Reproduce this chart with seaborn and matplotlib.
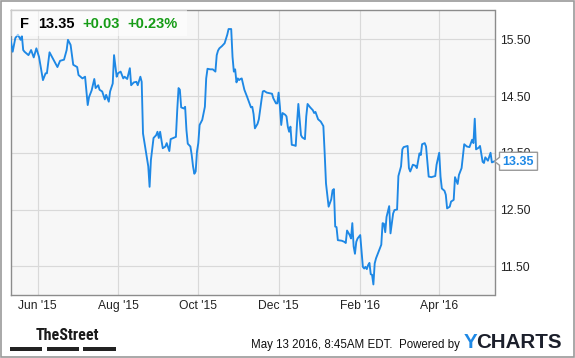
import matplotlib
matplotlib.use("Agg")
import matplotlib.pyplot as plt
import matplotlib.patches as mpatches
from matplotlib import font_manager
import seaborn as sns
import pandas as pd

# ---------------- data ----------------
dates = [
    "2015-05-11", "2015-05-13", "2015-05-15", "2015-05-17", "2015-05-19", "2015-05-20",
    "2015-05-21", "2015-05-22", "2015-05-25", "2015-05-27", "2015-05-29", "2015-05-31",
    "2015-06-02", "2015-06-05", "2015-06-07", "2015-06-08", "2015-06-10", "2015-06-13",
    "2015-06-16", "2015-06-18", "2015-06-21", "2015-06-23", "2015-06-24", "2015-06-26",
    "2015-06-28", "2015-07-01", "2015-07-02", "2015-07-05", "2015-07-07", "2015-07-09",
    "2015-07-10", "2015-07-12", "2015-07-14", "2015-07-15", "2015-07-17", "2015-07-18",
    "2015-07-20", "2015-07-22", "2015-07-23", "2015-07-25", "2015-07-26", "2015-07-28",
    "2015-07-29", "2015-07-31", "2015-08-01", "2015-08-03", "2015-08-05", "2015-08-06",
    "2015-08-08", "2015-08-10", "2015-08-11", "2015-08-13", "2015-08-15", "2015-08-16",
    "2015-08-18", "2015-08-19", "2015-08-20", "2015-08-22", "2015-08-24", "2015-08-25",
    "2015-08-26", "2015-08-28", "2015-08-30", "2015-08-31", "2015-09-01", "2015-09-02",
    "2015-09-04", "2015-09-06", "2015-09-07", "2015-09-09", "2015-09-10", "2015-09-12",
    "2015-09-14", "2015-09-15", "2015-09-16", "2015-09-17", "2015-09-18", "2015-09-20",
    "2015-09-21", "2015-09-22", "2015-09-23", "2015-09-25", "2015-09-26", "2015-09-27",
    "2015-09-28", "2015-09-29", "2015-09-30", "2015-10-01", "2015-10-02", "2015-10-04",
    "2015-10-05", "2015-10-06", "2015-10-07", "2015-10-08", "2015-10-10", "2015-10-12",
    "2015-10-14", "2015-10-15", "2015-10-16", "2015-10-17", "2015-10-19", "2015-10-21",
    "2015-10-23", "2015-10-24", "2015-10-26", "2015-10-27", "2015-10-28", "2015-10-29",
    "2015-10-30", "2015-10-31", "2015-11-01", "2015-11-02", "2015-11-03", "2015-11-05",
    "2015-11-07", "2015-11-09", "2015-11-10", "2015-11-11", "2015-11-12", "2015-11-13",
    "2015-11-15", "2015-11-16", "2015-11-18", "2015-11-19", "2015-11-20", "2015-11-22",
    "2015-11-24", "2015-11-26", "2015-11-27", "2015-11-29", "2015-11-30", "2015-12-01",
    "2015-12-02", "2015-12-03", "2015-12-04", "2015-12-06", "2015-12-07", "2015-12-08",
    "2015-12-09", "2015-12-10", "2015-12-11", "2015-12-13", "2015-12-14", "2015-12-15",
    "2015-12-16", "2015-12-18", "2015-12-19", "2015-12-21", "2015-12-22", "2015-12-23",
    "2015-12-25", "2015-12-27", "2015-12-28", "2015-12-29", "2015-12-31", "2016-01-02",
    "2016-01-04", "2016-01-05", "2016-01-06", "2016-01-08", "2016-01-10", "2016-01-11",
    "2016-01-12", "2016-01-13", "2016-01-14", "2016-01-15", "2016-01-18", "2016-01-20",
    "2016-01-21", "2016-01-22", "2016-01-24", "2016-01-25", "2016-01-26", "2016-01-27",
    "2016-01-28", "2016-01-29", "2016-01-30", "2016-02-01", "2016-02-03", "2016-02-04",
    "2016-02-05", "2016-02-06", "2016-02-07", "2016-02-08", "2016-02-09", "2016-02-10",
    "2016-02-11", "2016-02-12", "2016-02-13", "2016-02-15", "2016-02-17", "2016-02-18",
    "2016-02-19", "2016-02-20", "2016-02-21", "2016-02-23", "2016-02-24", "2016-02-26",
    "2016-02-27", "2016-02-29", "2016-03-01", "2016-03-03", "2016-03-04", "2016-03-05",
    "2016-03-08", "2016-03-09", "2016-03-10", "2016-03-12", "2016-03-14", "2016-03-15",
    "2016-03-17", "2016-03-18", "2016-03-19", "2016-03-21", "2016-03-22", "2016-03-24",
    "2016-03-26", "2016-03-29", "2016-03-30", "2016-04-01", "2016-04-02", "2016-04-03",
    "2016-04-05", "2016-04-06", "2016-04-07", "2016-04-09", "2016-04-10", "2016-04-12",
    "2016-04-13", "2016-04-15", "2016-04-16", "2016-04-18", "2016-04-20", "2016-04-22",
    "2016-04-24", "2016-04-26", "2016-04-27", "2016-04-28", "2016-04-29", "2016-05-01",
    "2016-05-02", "2016-05-04", "2016-05-05", "2016-05-06", "2016-05-08", "2016-05-10",
    "2016-05-11", "2016-05-13",
]
prices = [
    15.55, 15.28, 15.52, 15.58, 15.49, 15.56,
    15.31, 15.28, 15.22, 15.31, 15.18, 15.34,
    15.19, 14.78, 14.90, 14.90, 15.27, 15.14,
    15.01, 15.12, 15.14, 15.31, 15.49, 15.40,
    15.05, 15.01, 14.87, 14.81, 14.84, 14.34,
    14.48, 14.60, 14.80, 14.64, 14.69, 14.61,
    14.58, 14.44, 14.52, 14.40, 14.58, 14.72,
    15.22, 14.84, 14.90, 14.93, 14.81, 14.84,
    14.80, 14.99, 14.69, 14.74, 14.75, 14.69,
    14.84, 14.75, 13.84, 13.55, 13.26, 12.90,
    13.37, 13.76, 13.81, 13.87, 13.76, 13.87,
    13.58, 13.61, 13.67, 13.53, 13.74, 13.76,
    13.78, 14.25, 14.64, 14.61, 14.30, 14.28,
    14.31, 13.90, 13.66, 13.61, 13.46, 13.26,
    13.13, 13.17, 13.52, 13.67, 13.99, 14.08,
    14.20, 14.31, 14.81, 14.98, 14.97, 14.97,
    14.93, 15.22, 15.30, 15.34, 15.38, 15.43,
    15.58, 15.68, 15.68, 15.19, 14.93, 14.97,
    14.74, 14.81, 14.78, 14.80, 14.81, 14.61,
    14.49, 14.36, 14.30, 14.31, 14.18, 13.93,
    14.01, 14.09, 14.43, 14.58, 14.59, 14.56,
    14.55, 14.54, 14.46, 14.37, 14.37, 14.56,
    14.31, 13.99, 14.20, 14.17, 14.14, 13.96,
    13.87, 13.96, 13.64, 13.63, 13.62, 14.02,
    14.36, 13.81, 13.77, 13.74, 14.14, 14.36,
    14.30, 14.25, 14.20, 14.22, 14.09, 14.05,
    13.97, 13.49, 12.96, 12.55, 12.68, 12.84,
    12.86, 12.20, 12.19, 11.96, 11.95, 11.93,
    11.91, 12.13, 12.05, 11.99, 12.26, 11.85,
    11.72, 11.93, 11.99, 12.05, 11.49, 11.46,
    11.49, 11.45, 11.52, 11.56, 11.36, 11.35,
    11.18, 11.55, 11.64, 11.76, 11.88, 12.26,
    12.25, 12.10, 12.37, 12.56, 12.08, 12.43,
    12.49, 12.50, 13.09, 13.26, 13.56, 13.60,
    13.62, 13.23, 13.17, 13.29, 13.27, 13.23,
    13.49, 13.46, 13.65, 13.67, 13.61, 13.08,
    13.07, 13.09, 13.29, 13.50, 13.08, 12.87,
    12.83, 12.76, 12.52, 12.55, 12.64, 12.67,
    13.07, 12.95, 13.11, 13.23, 13.65, 13.61,
    13.60, 13.73, 13.67, 14.10, 13.56, 13.59,
    13.62, 13.34, 13.32, 13.42, 13.36, 13.50,
    13.33, 13.35,
]
y_ticks = [11.5, 12.5, 13.5, 14.5, 15.5]
y_tick_labels = ["11.50", "12.50", "13.50", "14.50", "15.50"]
x_tick_dates = ["2015-06-01", "2015-08-01", "2015-10-01", "2015-12-01", "2016-02-01", "2016-04-01"]
x_tick_labels = ["Jun '15", "Aug '15", "Oct '15", "Dec '15", "Feb '16", "Apr '16"]
ticker = "F"
last_price = "13.35"
change = "+0.03"
change_pct = "+0.23%"
timestamp_text = "May 13 2016, 8:45AM EDT.  Powered by"

# ---------------- styling ----------------
sns.set_theme(style="white")
plt.rcParams["font.family"] = ["Liberation Sans", "DejaVu Sans"]

installed = {f.name for f in font_manager.fontManager.ttflist}
narrow_family = None
for cand in ["Liberation Sans Narrow", "DejaVu Sans Condensed", "Roboto Condensed", "Open Sans Condensed"]:
    if cand in installed:
        narrow_family = cand
        break

W, H = 575, 358
fig = plt.figure(figsize=(W / 100, H / 100), dpi=100)
fig.patch.set_facecolor("white")

def fx(px):
    return px / W

def fy(py):
    return 1 - py / H

ax_left, ax_right, ax_top, ax_bottom = 10.7, 494.5, 10.3, 295.0
ax = fig.add_axes([fx(ax_left), fy(ax_bottom), fx(ax_right - ax_left), (ax_bottom - ax_top) / H])
ax.set_facecolor("#f7f7f7")

df = pd.DataFrame({"date": pd.to_datetime(dates), "price": prices})
line_color = "#1e88e5"
sns.lineplot(data=df, x="date", y="price", ax=ax, color=line_color, linewidth=1.35, zorder=3)

ax.set_xlim(pd.Timestamp("2015-05-11 12:00"), pd.Timestamp("2016-05-13"))
ax.set_ylim(10.994, 16.01)

ax.set_yticks(y_ticks)
ax.set_yticklabels(y_tick_labels)
ax.yaxis.tick_right()
ax.set_xticks(pd.to_datetime(x_tick_dates))
ax.set_xticklabels(x_tick_labels)
ax.tick_params(axis="both", length=0, labelsize=8.7, colors="#222222")
ax.tick_params(axis="y", pad=4)
ax.tick_params(axis="x", pad=3.5)
ax.set_xlabel("")
ax.set_ylabel("")
ax.grid(True, color="#d9d9d9", linewidth=0.85, zorder=0)
ax.set_axisbelow(True)
for s in ax.spines.values():
    s.set_color("#8c8c8c")
    s.set_linewidth(1.0)
    s.set_visible(True)

# header box with quote
fig.patches.append(mpatches.Rectangle((fx(ax_left), fy(35.5)), fx(187 - ax_left), (35.5 - ax_top) / H,
                                      transform=fig.transFigure, facecolor="white", alpha=0.55,
                                      edgecolor="none", zorder=4))
hy = fy(23.5)
fig.text(fx(20), hy, ticker, fontsize=10.5, fontweight="bold", color="black", va="center", zorder=5)
fig.text(fx(38), hy, last_price, fontsize=10.5, fontweight="bold", color="black", va="center", zorder=5)
fig.text(fx(82), hy, change, fontsize=10.5, fontweight="bold", color="#169c16", va="center", zorder=5)
fig.text(fx(127), hy, change_pct, fontsize=10.5, fontweight="bold", color="#169c16", va="center", zorder=5)

# last price tag at right edge
tip_disp = ax.transData.transform((ax.get_xlim()[1], prices[-1]))
tx, ty = fig.transFigure.inverted().transform(tip_disp)
tip_x, tip_y = tx * W, (1 - ty) * H  # pixel coords, y down
verts_px = [(tip_x, tip_y), (tip_x + 5, tip_y - 4), (tip_x + 5, tip_y - 9), (tip_x + 43, tip_y - 9),
            (tip_x + 43, tip_y + 9), (tip_x + 5, tip_y + 9), (tip_x + 5, tip_y + 4)]
verts = [(fx(a), fy(b)) for a, b in verts_px]
fig.patches.append(mpatches.Polygon(verts, closed=True, transform=fig.transFigure, facecolor="white",
                                    edgecolor="#9a9a9a", linewidth=1.0, zorder=6))
fig.text(fx(tip_x + 24), fy(tip_y + 0.5), last_price, fontsize=9, fontweight="bold", color=line_color,
         ha="center", va="center", zorder=7)

# footer: TheStreet logo
if narrow_family:
    fig.text(fx(36), fy(335.5), "TheStreet", fontsize=11.5, fontweight="bold",
             family=[narrow_family, "Liberation Sans"], color="#1a1a1a", va="center")
else:
    fig.text(fx(36), fy(335.5), "TheStreet", fontsize=9, fontweight="bold",
             color="#1a1a1a", va="center")
for x0, x1 in [(10, 42), (47, 79), (83, 116)]:
    fig.patches.append(mpatches.Rectangle((fx(x0), fy(350.7)), fx(x1 - x0), 3.7 / H,
                                          transform=fig.transFigure, facecolor="#222222", edgecolor="none"))

# footer: timestamp and YCHARTS
fig.text(fx(459.5), fy(345), timestamp_text, fontsize=8.3, color="#111111", ha="right", va="center")
ty_txt = fig.text(fx(464), fy(342), "Y", fontsize=14.8, fontweight="bold", color="#1e88e5", va="center")
renderer = fig.canvas.get_renderer()
bb = ty_txt.get_window_extent(renderer=renderer)
fig.text((bb.x1 - 1.5) / fig.bbox.width, fy(342), "CHARTS", fontsize=14.8, fontweight="bold",
         color="#1b1f2b", va="center")

# outer border
fig.patches.append(mpatches.Rectangle((fx(1), fy(356.5)), fx(572.5), 355.5 / H, transform=fig.transFigure,
                                      fill=False, edgecolor="#9a9a9a", linewidth=1.2))

fig.savefig("out.png", dpi=100, facecolor="white")
